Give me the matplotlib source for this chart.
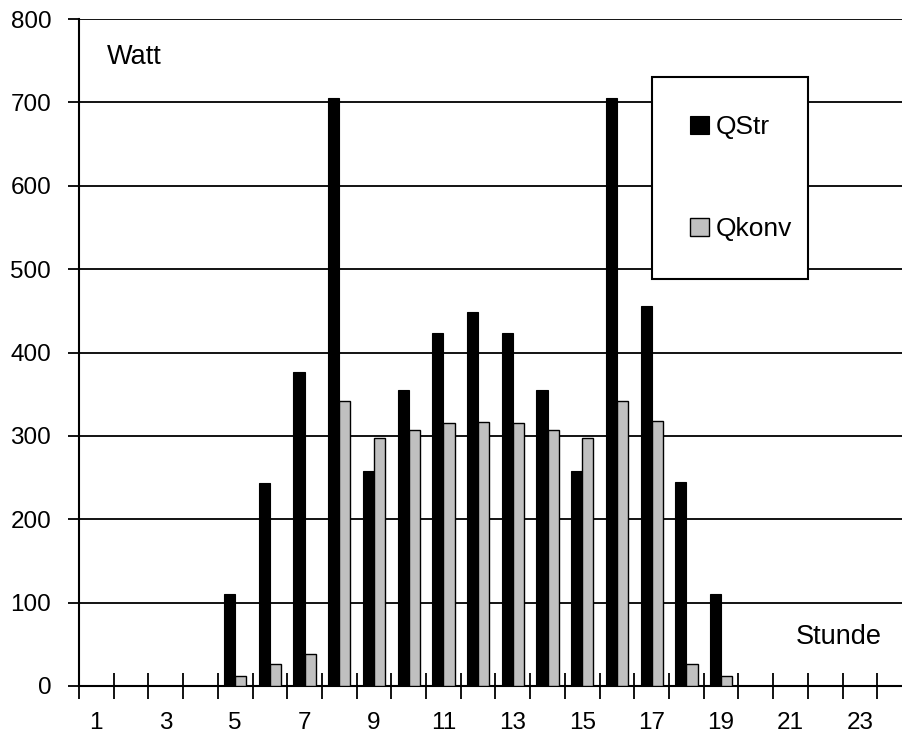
import matplotlib.pyplot as plt
import numpy as np

plt.rcParams['font.family'] = ['Liberation Sans', 'DejaVu Sans']

hours = list(range(1, 25))
qstr = [0, 0, 0, 0, 110, 243, 377, 705, 258, 355, 423, 448,
        423, 355, 258, 705, 456, 245, 110, 0, 0, 0, 0, 0]
qkonv = [0, 0, 0, 0, 12, 26, 38, 342, 298, 307, 315, 317,
         315, 307, 298, 342, 318, 26, 12, 0, 0, 0, 0, 0]
xlabels = [str(h) if h % 2 == 1 else '' for h in hours]

fig = plt.figure(figsize=(9.02, 7.35), dpi=100)
ax = fig.add_axes([79 / 902, 1 - 686 / 735, 833 / 902, 667 / 735])

x = np.array(hours)
w = 0.32
ax.bar(x - w / 2, qstr, width=w, color='black', edgecolor='black',
       linewidth=0.8, label='QStr', zorder=3)
ax.bar(x + w / 2, qkonv, width=w, color='#c0c0c0', edgecolor='black',
       linewidth=1.0, label='Qkonv', zorder=3)

ax.set_xlim(0.5, 24.5)
ax.set_ylim(0, 800)
ax.set_yticks(range(0, 801, 100))
ax.yaxis.grid(True, color='black', linewidth=1.3, zorder=1)

# odd hours labelled, tick marks sit between the hour groups
ax.set_xticks(hours)
ax.set_xticklabels(xlabels)
ax.set_xticks(np.arange(0.5, 24.5, 1.0), minor=True)
ax.tick_params(axis='x', which='major', length=0, pad=19, labelsize=17.5)
ax.tick_params(axis='x', which='minor', direction='inout', length=19,
               width=1.3)
ax.tick_params(axis='y', direction='out', length=8, width=1.3, pad=12,
               labelsize=17.5)

for side in ['top', 'right']:
    ax.spines[side].set_visible(False)
ax.spines['left'].set_linewidth(1.5)
ax.spines['bottom'].set_linewidth(1.5)

fig.text(107 / 902, 1 - 57 / 735, 'Watt', fontsize=19.5, va='center')
fig.text(796 / 902, 1 - 637 / 735, 'Stunde', fontsize=19.5, va='center')

leg = ax.legend(loc='upper left',
                bbox_to_anchor=(652 / 902, 1 - 282 / 735, 156 / 902, 205 / 735),
                bbox_transform=fig.transFigure, mode='expand', fontsize=19,
                frameon=True, fancybox=False, edgecolor='black', framealpha=1,
                borderpad=1.45, labelspacing=2.95, handlelength=0.71,
                handleheight=0.71, handletextpad=0.25, borderaxespad=0)
leg.get_frame().set_linewidth(1.5)
leg.set_zorder(5)

fig.savefig('out.png', dpi=100)
